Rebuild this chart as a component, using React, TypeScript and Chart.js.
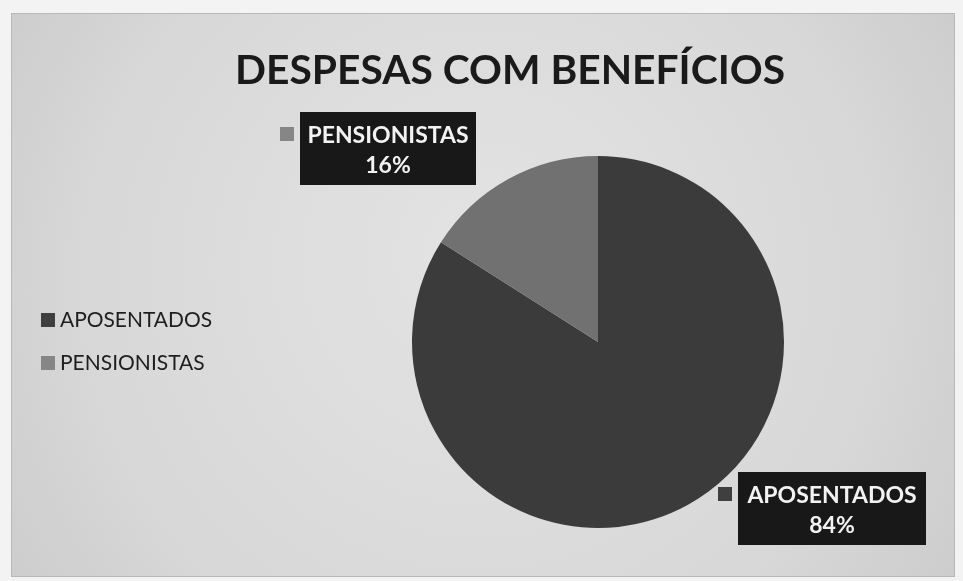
import React, { useEffect, useRef } from "react";
import { Chart, registerables } from "chart.js";

Chart.register(...registerables);

const title = "DESPESAS COM BENEFÍCIOS";
const categories = ["APOSENTADOS", "PENSIONISTAS"];
const values = [84, 16];
const sliceColors = ["#3b3b3b", "#717171"];
const legendColors = ["#3f3f3f", "#868686"];
const FONT = "Lato, 'Open Sans', sans-serif";

const decorPlugin = {
  id: "decor",
  beforeDraw(chart: any) {
    const ctx = chart.ctx;
    const W = chart.width;
    const H = chart.height;
    ctx.save();
    ctx.fillStyle = "#f3f3f3";
    ctx.fillRect(0, 0, W, H);
    const g = ctx.createRadialGradient(480, 250, 40, 480, 300, 620);
    g.addColorStop(0, "#e2e2e2");
    g.addColorStop(0.6, "#d8d8d8");
    g.addColorStop(1, "#c8c8c8");
    ctx.fillStyle = g;
    ctx.fillRect(11, 13, W - 19, H - 17);
    ctx.strokeStyle = "#b8b8b8";
    ctx.lineWidth = 1;
    ctx.strokeRect(11.5, 13.5, W - 20, H - 18);
    // title
    ctx.fillStyle = "#1a1a1a";
    ctx.font = `bold 41px ${FONT}`;
    ctx.textAlign = "center";
    ctx.textBaseline = "alphabetic";
    ctx.fillText(title, 510, 84, 550);
    // legend
    ctx.font = `21px ${FONT}`;
    ctx.textAlign = "left";
    const legendY = [327, 370];
    categories.forEach((c, i) => {
      ctx.fillStyle = legendColors[i];
      ctx.fillRect(41, legendY[i] - 14, 14, 14);
      ctx.fillStyle = "#1e1e1e";
      ctx.fillText(c, 60, legendY[i], i === 0 ? 152 : 146);
    });
    ctx.restore();
  },
  afterDatasetsDraw(chart: any) {
    const ctx = chart.ctx;
    const meta = chart.getDatasetMeta(0);
    const total = values.reduce((a, b) => a + b, 0);
    const boxes = [
      { x: 738, y: 472, w: 188, h: 73 },
      { x: 300, y: 112, w: 176, h: 73 },
    ];
    ctx.save();
    meta.data.forEach((arc: any, i: number) => {
      const b = boxes[i];
      ctx.fillStyle = "#181818";
      ctx.fillRect(b.x, b.y, b.w, b.h);
      ctx.fillStyle = legendColors[i];
      ctx.fillRect(b.x - 20, b.y + 15, 14, 14);
      ctx.fillStyle = "#f2f2f2";
      ctx.font = `bold 23px ${FONT}`;
      ctx.textAlign = "center";
      ctx.textBaseline = "alphabetic";
      const cx = b.x + b.w / 2;
      ctx.fillText(categories[i], cx, b.y + 31, b.w - 14);
      const pct = Math.round((values[i] / total) * 100) + "%";
      ctx.fillText(pct, cx, b.y + 61);
    });
    ctx.restore();
  },
};

export default function App() {
  const ref = useRef<HTMLCanvasElement | null>(null);
  useEffect(() => {
    if (!ref.current) return;
    const chart = new Chart(ref.current, {
      type: "pie",
      data: {
        labels: categories,
        datasets: [
          {
            data: values,
            backgroundColor: sliceColors,
            borderWidth: 0,
          },
        ],
      },
      options: {
        animation: false,
        responsive: false,
        layout: { padding: { left: 412, right: 179, top: 156, bottom: 53 } },
        plugins: {
          legend: { display: false },
          title: { display: false },
          tooltip: { enabled: false },
        },
      },
      plugins: [decorPlugin],
    });
    return () => chart.destroy();
  }, []);
  return (
    <div style={{ position: "fixed", left: 0, top: 0, width: 963, height: 581 }}>
      <canvas ref={ref} width={963} height={581} />
    </div>
  );
}
